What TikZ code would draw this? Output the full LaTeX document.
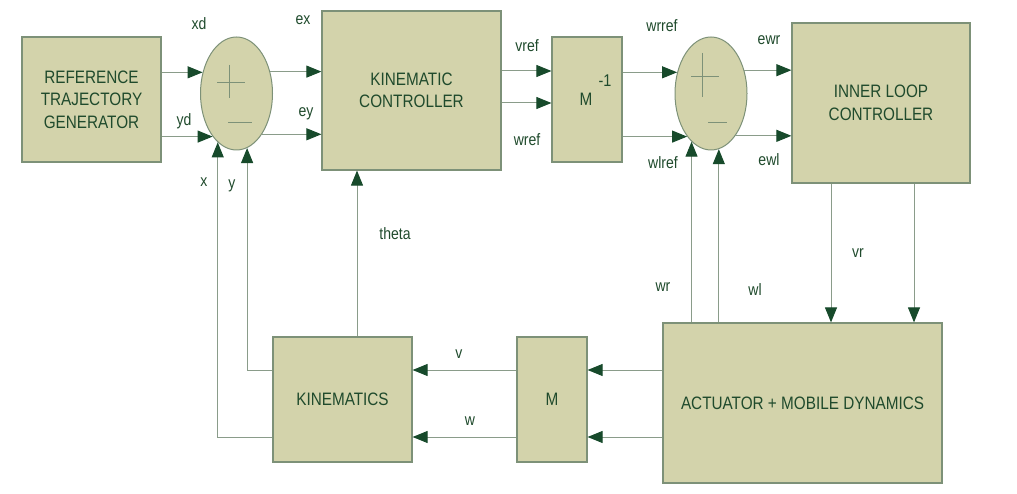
\documentclass[tikz,border=0pt]{standalone}
\usepackage{fontspec}
\setmainfont{Liberation Sans}[FakeStretch=0.85]
\usetikzlibrary{arrows.meta,shapes.geometric,calc}
\definecolor{boxfill}{HTML}{D3D3AB}
\definecolor{boxline}{HTML}{7D9178}
\definecolor{txt}{HTML}{1F4A2C}
\definecolor{wire}{HTML}{8A9C8A}
\definecolor{head}{HTML}{174A2B}
\begin{document}
\begin{tikzpicture}[x=1pt,y=-1pt,
 blk/.style={draw=boxline, fill=boxfill, line width=1.2pt, rectangle, inner sep=0pt, text=txt, font=\fontsize{18}{22.5}\selectfont, align=center},
 sumnode/.style={draw=boxline, fill=boxfill, ellipse, line width=1pt, minimum width=72pt, minimum height=113pt, inner sep=0pt},
 arr/.style={draw=wire, line width=1pt, -{Triangle[length=15pt,width=12pt,fill=head,color=head]}},
 wireln/.style={draw=wire, line width=1pt},
 lbl/.style={text=txt, font=\fontsize{16.5}{18}\selectfont, inner sep=0pt},
 sgn/.style={draw=boxline, line width=1pt}
]
\useasboundingbox (0,0) rectangle (1017,494);

% blocks
\node[blk, minimum width=139pt, minimum height=125pt] (rtg) at (91.5,99.5) {REFERENCE\\TRAJECTORY\\GENERATOR};
\node[blk, minimum width=179pt, minimum height=159pt] (kc) at (411.5,90.5) {KINEMATIC\\CONTROLLER};
\node[blk, minimum width=70pt, minimum height=125pt] (minv) at (587,99.5) {};
\node[blk, minimum width=178pt, minimum height=160pt] (ilc) at (881,103) {INNER LOOP\\CONTROLLER};
\node[blk, minimum width=279pt, minimum height=160pt] (act) at (802.5,403) {ACTUATOR + MOBILE DYNAMICS};
\node[blk, minimum width=70pt, minimum height=125pt] (m) at (552,399.5) {M};
\node[blk, minimum width=139pt, minimum height=125pt] (kin) at (342.5,399.5) {KINEMATICS};

\node[lbl, font=\fontsize{18}{20}\selectfont] (mtxt) at (586,99) {M};
\node[lbl, font=\fontsize{17}{20}\selectfont] (mexp) at (605,81) {-1};

% summing junctions
\node[sumnode] (s1) at (236.5,93.5) {};
\node[sumnode] (s2) at (711,93.5) {};
\draw[sgn] ($(s1)+(-19.5,-10.5)$) -- ++(28,0);
\draw[sgn] ($(s1)+(-7.5,-28.5)$) -- ++(0,33);
\draw[sgn] ($(s1)+(-8.5,29.5)$) -- ++(24,0);
\draw[sgn] ($(s2)+(-20,-16.5)$) -- ++(28,0);
\draw[sgn] ($(s2)+(-9,-40.5)$) -- ++(0,44);
\draw[sgn] ($(s2)+(-3,29.5)$) -- ++(19,0);

% reference to sum 1
\draw[arr] (rtg.east |- s1.148) -- (s1.148);
\draw[arr] (rtg.east |- s1.241.4) -- (s1.241.4);
% sum 1 to kinematic controller
\draw[arr] (s1.33) -- (kc.west |- s1.33);
\draw[arr] (s1.302) -- (kc.west |- s1.302);
% kinematic controller to M^-1
\coordinate (a1) at ([yshift=28.5pt]minv.west);
\coordinate (a2) at ([yshift=-3.5pt]minv.west);
\draw[arr] (kc.east |- a1) -- (a1);
\draw[arr] (kc.east |- a2) -- (a2);
% M^-1 to sum 2
\draw[arr] (minv.east |- s2.148) -- (s2.148);
\draw[arr] (minv.east |- s2.241.4) -- (s2.241.4);
% sum 2 to inner loop controller
\draw[arr] (s2.35) -- (ilc.west |- s2.35);
\draw[arr] (s2.300) -- (ilc.west |- s2.300);
% inner loop controller to actuator
\coordinate (v1) at ([xshift=-50pt]ilc.south);
\coordinate (v2) at ([xshift=33pt]ilc.south);
\draw[arr] (v1) -- (v1 |- act.north);
\draw[arr] (v2) -- (v2 |- act.north);
% actuator feedback to sum 2
\draw[arr] (act.north -| s2.248.6) -- (s2.248.6);
\draw[arr] (act.north -| s2.278.2) -- (s2.278.2);
% actuator to M
\coordinate (b1) at ([yshift=29.5pt]m.east);
\coordinate (b2) at ([yshift=-37.5pt]m.east);
\draw[arr] (act.west |- b1) -- (b1);
\draw[arr] (act.west |- b2) -- (b2);
% M to kinematics
\draw[arr] (m.west |- b1) -- (kin.east |- b1);
\draw[arr] (m.west |- b2) -- (kin.east |- b2);
% kinematics to kinematic controller
\coordinate (t1) at ([xshift=14.5pt]kin.north);
\draw[arr] (t1) -- (t1 |- kc.south);
% kinematics to sum 1
\draw[arr] ([yshift=29.5pt]kin.west) -| (s1.281.5);
\draw[arr] ([yshift=-37.5pt]kin.west) -| (s1.249.8);

% labels
\node[lbl] (lxd) at (199,24) {xd};
\node[lbl] (lex) at (303,20) {ex};
\node[lbl] (lyd) at (184,121) {yd};
\node[lbl] (ley) at (306,114) {ey};
\node[lbl] (lx) at (204,182) {x};
\node[lbl] (ly) at (232,186) {y};
\node[lbl] (lvref) at (527,46) {vref};
\node[lbl] (lwref) at (527,140) {wref};
\node[lbl] (lwrref) at (662,26) {wrref};
\node[lbl] (lewr) at (769,40) {ewr};
\node[lbl] (lwlref) at (663,163) {wlref};
\node[lbl] (lewl) at (769,160) {ewl};
\node[lbl] (ltheta) at (395,234) {theta};
\node[lbl] (lvr) at (858,253) {vr};
\node[lbl] (lwr) at (663,287) {wr};
\node[lbl] (lwl) at (755,290) {wl};
\node[lbl] (lv) at (459,354) {v};
\node[lbl] (lw) at (470,421) {w};
\end{tikzpicture}
\end{document}
